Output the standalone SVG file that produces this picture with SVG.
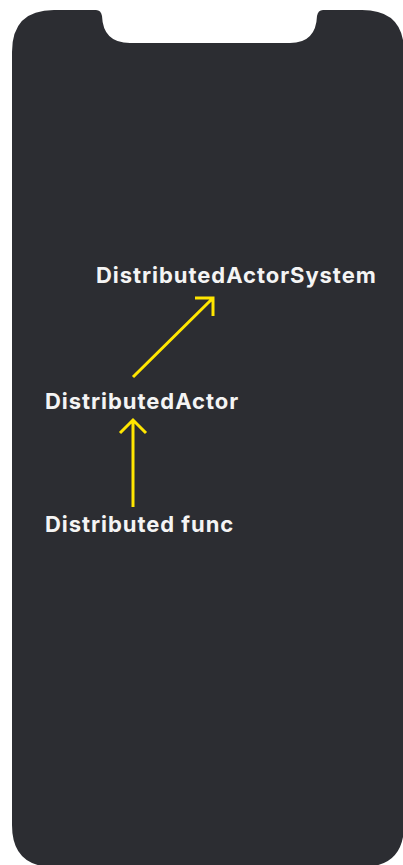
<svg xmlns="http://www.w3.org/2000/svg" width="403" height="865" viewBox="0 0 403 865">
<style>
.lbl{font-family:Inter,"Liberation Sans",sans-serif;font-weight:700;font-size:22px;letter-spacing:0.95px;fill:#f4f4f4}
.ar{stroke:#ffe600;stroke-width:3;fill:none;stroke-linecap:butt;stroke-linejoin:miter}
</style>
<rect width="403" height="865" fill="#ffffff"/>
<g id="phone">
<path d="M54,10 H96 Q101,10 102,16 Q103,43 130,43 H290 Q316,43 317,16 Q318,10 323,10 H362 Q404,10 404,52 V825 Q404,867 362,867 H54 Q12,867 12,825 V52 Q12,10 54,10 Z" fill="#2c2d32"/>
</g>
<g id="connectors">
<path class="ar" d="M133,377 L213,298 M195,298 H213 V316"/>
<path class="ar" d="M133,507 V421 M120,433 L133,420 L146,433"/>
</g>
<g id="n1"><text class="lbl" x="96" y="283">DistributedActorSystem</text></g>
<g id="n2"><text class="lbl" x="45" y="409">DistributedActor</text></g>
<g id="n3"><text class="lbl" x="45" y="532">Distributed func</text></g>
</svg>
